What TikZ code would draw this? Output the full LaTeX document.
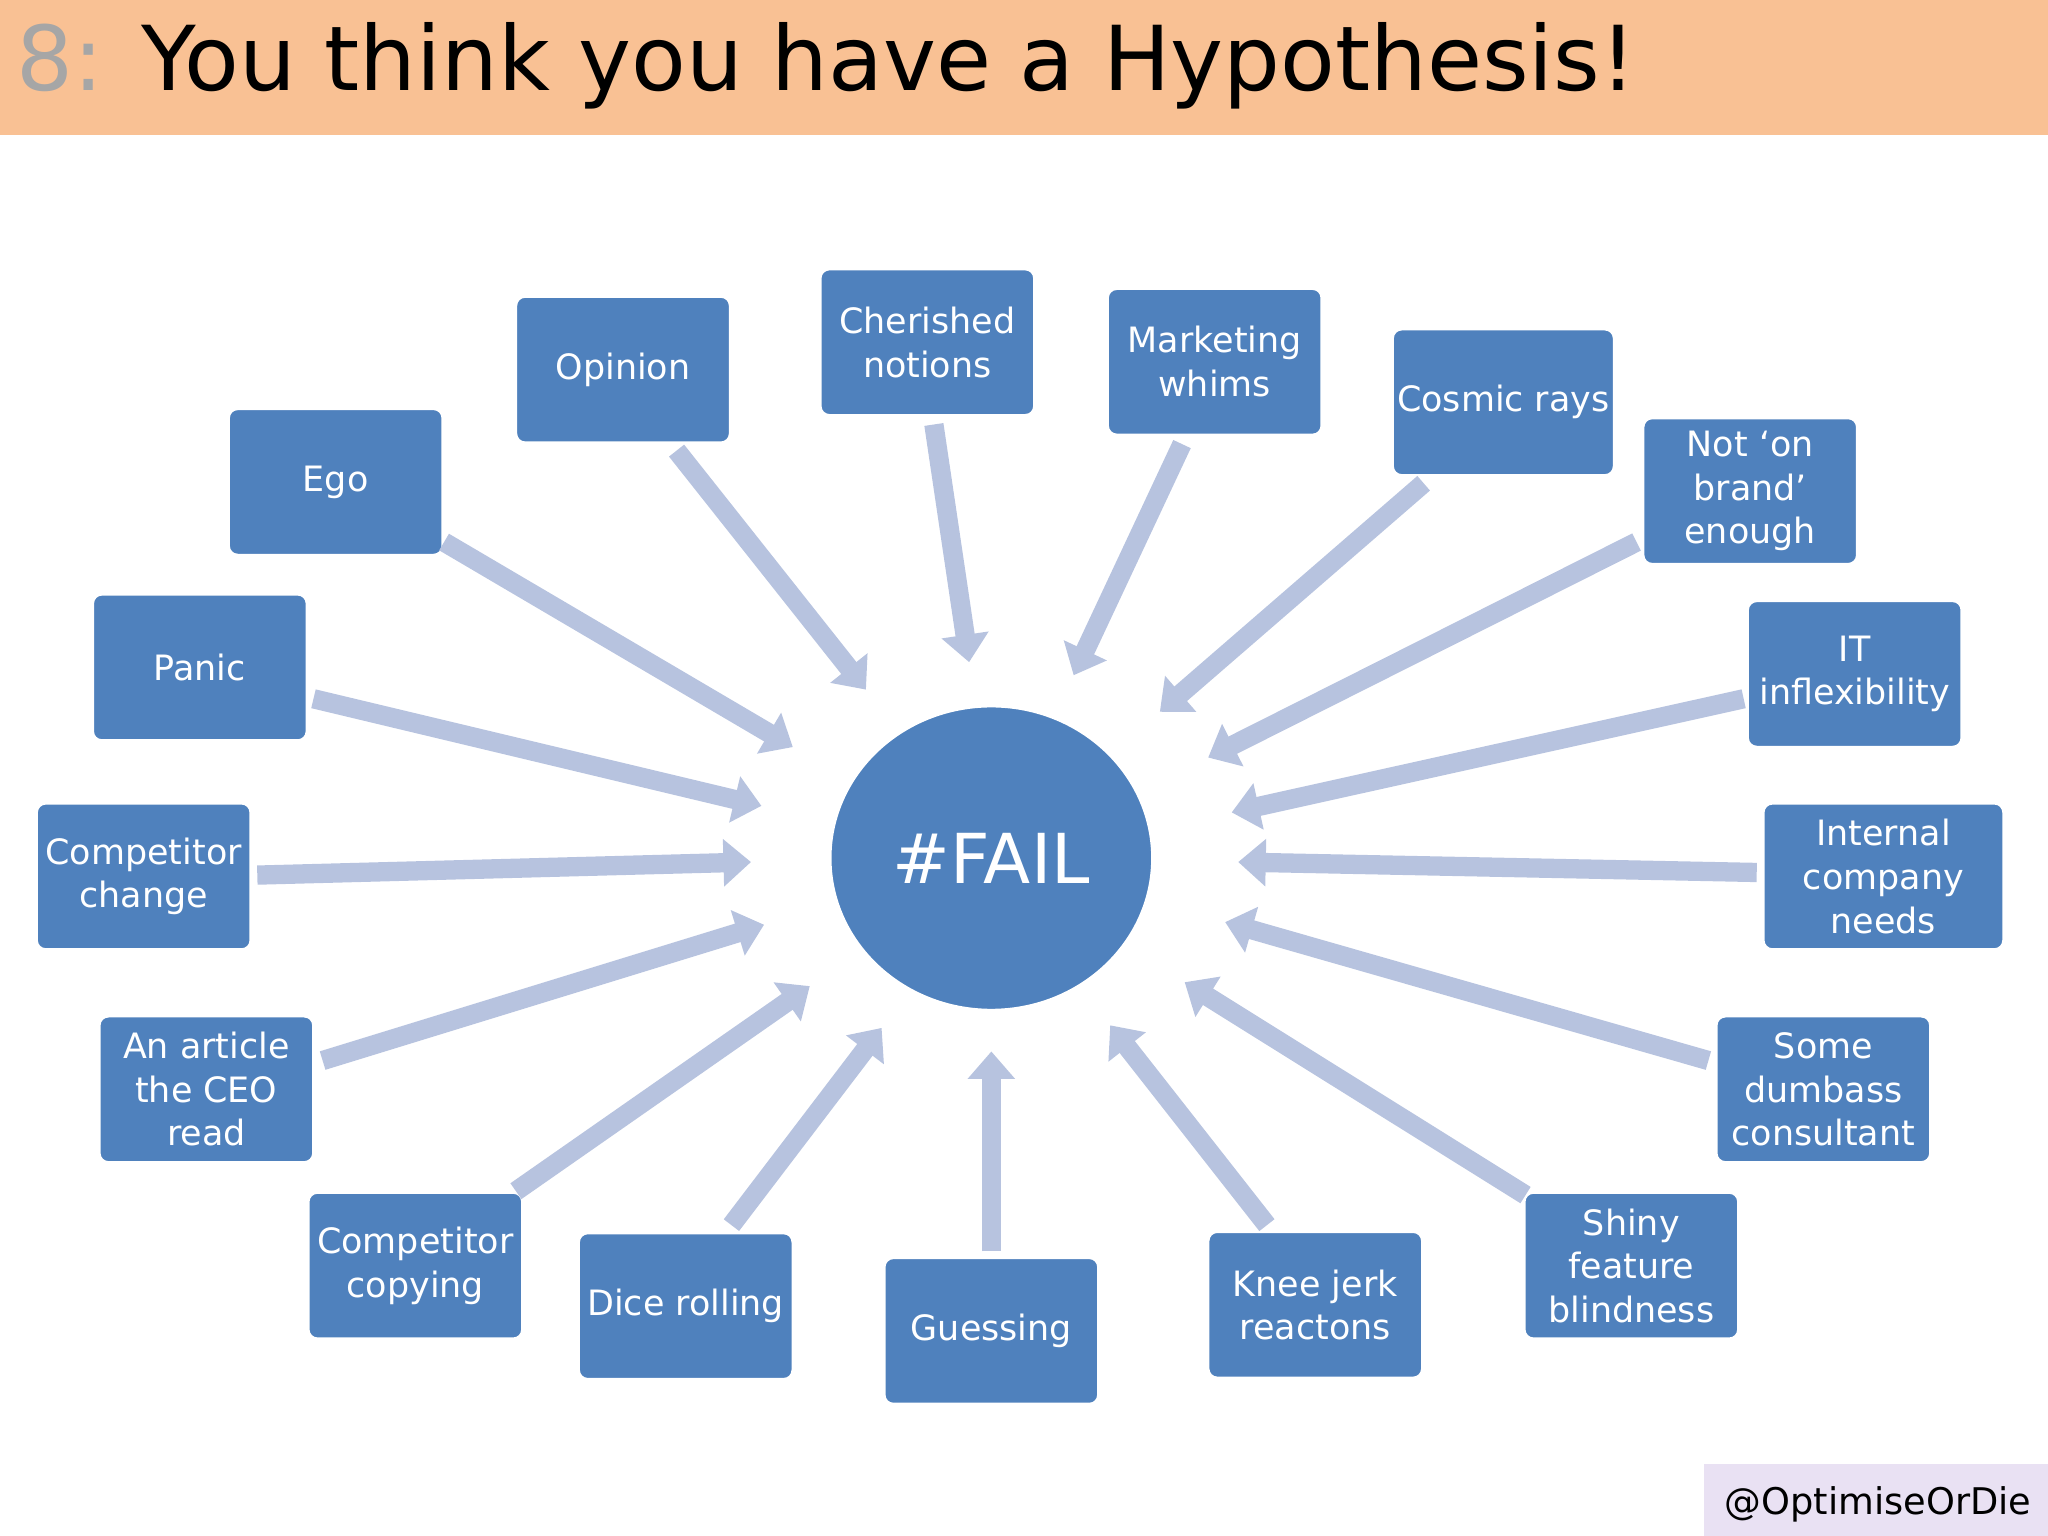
\documentclass[tikz,border=0pt]{standalone}
\usepackage{fontspec}
\setmainfont{DejaVu Sans}
\usetikzlibrary{shapes.geometric,arrows.meta}
\begin{document}
\begin{tikzpicture}[x=0.01cm,y=-0.01cm,
  box/.style={draw=white,line width=0.6pt,fill=boxblue,rounded corners=2pt,minimum width=1.64cm,minimum height=1.12cm,text=white,align=center,font=\fontsize{7.6}{9.5}\selectfont,inner sep=1pt},
  arr/.style={draw=arrblue,line width=4.2pt,-{Triangle[length=6pt,width=10pt]}}]
\definecolor{boxblue}{HTML}{4F81BD}
\definecolor{arrblue}{HTML}{B7C3DF}
\definecolor{peach}{HTML}{F9C194}
\definecolor{lav}{HTML}{E9E1F3}
\useasboundingbox (0,0) rectangle (1568,1176);
\fill[peach] (0,0) rectangle (1568,103);
\node[anchor=west,font=\fontsize{19.5}{23}\selectfont,inner sep=0] (title) at (12,50) {\textcolor{gray!70}{8:} You think you have a Hypothesis!};
\fill[lav] (1305,1121) rectangle (1568,1176);
\node[font=\fontsize{8}{10}\selectfont,inner sep=0] (wm) at (1438,1152) {@OptimiseOrDie};
\node[ellipse,fill=boxblue,draw=white,minimum width=2.46cm,minimum height=2.32cm,text=white,font=\fontsize{15}{18}\selectfont,inner sep=0] (fail) at (759,657) {\#FAIL};
\node[box] (ego) at (257,369) {Ego};
\node[box] (opin) at (477,283) {Opinion};
\node[box] (cher) at (710,262) {Cherished\\notions};
\node[box] (mark) at (930,277) {Marketing\\whims};
\node[box] (cosm) at (1151,308) {Cosmic rays};
\node[box] (brand) at (1340,376) {Not ‘on\\brand’\\enough};
\node[box] (it) at (1420,516) {IT\\inflexibility};
\node[box,minimum width=1.84cm] (intl) at (1442,671) {Internal\\company\\needs};
\node[box] (dumb) at (1396,834) {Some\\dumbass\\consultant};
\node[box] (shiny) at (1249,969) {Shiny\\feature\\blindness};
\node[box] (knee) at (1007,999) {Knee jerk\\reactons};
\node[box] (guess) at (759,1019) {Guessing};
\node[box] (dice) at (525,1000) {Dice rolling};
\node[box] (ccopy) at (318,969) {Competitor\\copying};
\node[box] (art) at (158,834) {An article\\the CEO\\read};
\node[box] (cchg) at (110,671) {Competitor\\change};
\node[box] (panic) at (153,511) {Panic};
\foreach \n/\sx/\sy/\ex/\ey in {a/340/415/607/572, b/518/345/663/528, c/715/325/742/507, d/905/340/822/517, e/1090/370/888/545, f/1253/415/925/580, g/1335/535/943/622, h/1345/668/948/660, i/1308/812/938/706, j/1168/915/907/752, k/970/938/850/785, l/759/958/759/805, m/560/938/675/787, n/395/912/620/755, o/247/812/585/708, p/197/670/575/660, q/240/535/583/617}{
  \coordinate (s\n) at (\sx,\sy);
  \coordinate (e\n) at (\ex,\ey);
  \draw[arr] (s\n) -- (e\n);
}
\end{tikzpicture}
\end{document}
